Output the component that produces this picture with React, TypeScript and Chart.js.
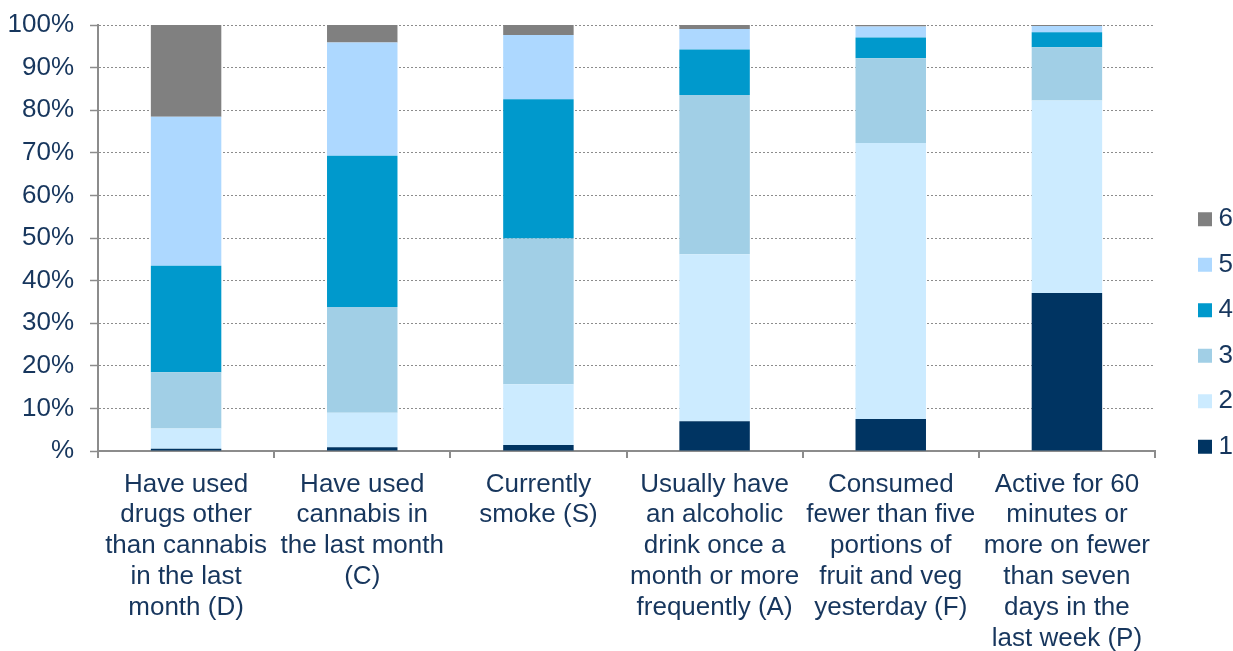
import React, { useEffect, useRef } from 'react';
import { Chart, registerables } from 'chart.js';

Chart.register(...registerables);

const categories: string[][] = [
  ['Have used', 'drugs other', 'than cannabis', 'in the last', 'month (D)'],
  ['Have used', 'cannabis in', 'the last month', '(C)'],
  ['Currently', 'smoke (S)'],
  ['Usually have', 'an alcoholic', 'drink once a', 'month or more', 'frequently (A)'],
  ['Consumed', 'fewer than five', 'portions of', 'fruit and veg', 'yesterday (F)'],
  ['Active for 60', 'minutes or', 'more on fewer', 'than seven', 'days in the', 'last week (P)'],
];

const seriesNames = ['1', '2', '3', '4', '5', '6'];
const series1 = [0.5, 0.9, 1.4, 7.0, 7.5, 37.1];
const series2 = [4.8, 8.1, 14.3, 39.2, 64.8, 45.2];
const series3 = [13.2, 24.8, 34.2, 37.4, 19.9, 12.5];
const series4 = [25.0, 35.5, 32.7, 10.7, 4.9, 3.5];
const series5 = [35.0, 26.6, 15.1, 4.8, 2.6, 1.5];
const series6 = [21.5, 4.1, 2.3, 0.9, 0.3, 0.2];
const seriesColors = ['#003462', '#CCEBFF', '#A1CFE6', '#0099CC', '#ADD8FF', '#808080'];

const yTickLabels = ['%', '10%', '20%', '30%', '40%', '50%', '60%', '70%', '80%', '90%', '100%'];

const FONT = "'Liberation Sans', Arial, sans-serif";
const TEXT = '#17365d';
const AXIS = '#8c8c8c';

export default function App() {
  const ref = useRef<HTMLCanvasElement | null>(null);

  useEffect(() => {
    if (!ref.current) return;
    const values = [series1, series2, series3, series4, series5, series6];
    const chart = new Chart(ref.current, {
      type: 'bar',
      data: {
        labels: categories,
        datasets: values.map((v, i) => ({
          label: seriesNames[i],
          data: v,
          backgroundColor: seriesColors[i],
          borderWidth: 0,
          barPercentage: 0.4,
          categoryPercentage: 1.0,
        })),
      },
      options: {
        animation: false,
        responsive: true,
        maintainAspectRatio: false,
        layout: { padding: { top: 15, bottom: 0, left: 0, right: 0 } },
        plugins: {
          tooltip: { enabled: false },
          legend: {
            position: 'right',
            align: 'center',
            reverse: true,
            maxWidth: 48,
            labels: {
              usePointStyle: true,
              pointStyle: 'rect',
              boxWidth: 1,
              boxHeight: 14,
              padding: 19.5,
              color: TEXT,
              font: { family: FONT, size: 26 },
            },
          },
        },
        scales: {
          x: {
            stacked: true,
            afterFit: (s: any) => { s.height = 200; },
            grid: {
              offset: true,
              drawOnChartArea: false,
              drawTicks: true,
              tickLength: 7,
              color: AXIS,
              lineWidth: 2,
            },
            border: { display: true, color: AXIS, width: 2 },
            ticks: {
              color: TEXT,
              font: { family: FONT, size: 26, lineHeight: 1.185 },
              padding: 11,
              maxRotation: 0,
              autoSkip: false,
            },
          },
          y: {
            stacked: true,
            min: 0,
            max: 100,
            afterFit: (s: any) => { s.width = 98; },
            grid: {
              color: AXIS,
              lineWidth: 1,
              drawTicks: true,
              tickLength: 8,
              tickColor: AXIS,
              tickWidth: 1.5,
              tickBorderDash: [],
            },
            border: { display: true, color: AXIS, width: 2, dash: [2, 2] },
            ticks: {
              stepSize: 10,
              color: TEXT,
              padding: 16,
              font: { family: FONT, size: 26, lineHeight: 0.7 },
              callback: (_v: any, i: number) => yTickLabels[i],
            },
          },
          y2: {
            type: 'linear',
            position: 'right',
            display: true,
            afterFit: (s: any) => { s.width = 30; },
            grid: { display: false, drawTicks: false },
            border: { display: false },
            ticks: { display: false },
          },
        },
      } as any,
    });
    return () => chart.destroy();
  }, []);

  return (
    <div style={{ position: 'fixed', left: 0, top: 0, width: 1233, height: 651, background: '#fff' }}>
      <canvas ref={ref} />
    </div>
  );
}
